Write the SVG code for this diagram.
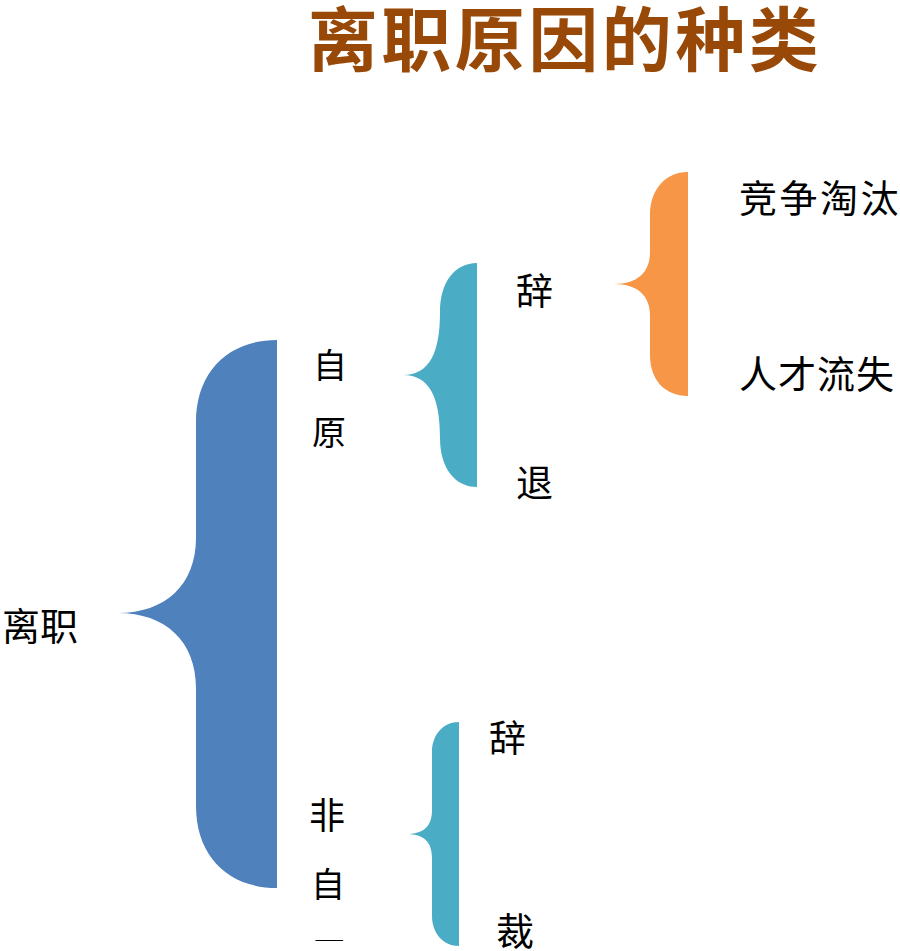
<svg xmlns="http://www.w3.org/2000/svg" width="900" height="951" viewBox="0 0 900 951">
<style>
.t{font-family:"Noto Sans CJK SC","Noto Sans CJK JP",sans-serif;fill:#000;}
.title{font-family:"Noto Sans CJK SC",sans-serif;font-weight:bold;fill:#984807;font-size:70px;}
</style>
<defs>
<clipPath id="clipBottom"><rect x="0" y="0" width="900" height="941"/></clipPath>
</defs>
<rect width="900" height="951" fill="#fff"/>
<text class="title" x="565" y="66" text-anchor="middle" letter-spacing="3.5">离职原因的种类</text>
<g id="connectors">
<path id="brace-main" fill="#4F81BD" d="M277,340 C228,340 196,372 196,422 L196,538 C196,585 165,613 118,613 C165,613 196,641 196,688 L196,806 C196,856 228,888 277,888 Z"/>
<path id="brace-ziyuan" fill="#4BACC6" d="M477,263 C455,263 440,282 440,312 C440,352 430,375 403,375 C430,375 440,398 440,438 C440,468 455,487 477,487 Z"/>
<path id="brace-cituo" fill="#F79646" d="M688,172 C665,172 650,190 650,215 L650,252 C650,272 638,284 614,284 C638,284 650,296 650,316 L650,355 C650,380 665,396 688,396 Z"/>
<path id="brace-feiziyuan" fill="#4BACC6" d="M459,722 C443,722 432,735 432,752 L432,810 C432,826 424,834 406,834 C424,834 432,842 432,858 L432,916 C432,933 443,946 459,946 Z"/>
</g>
<g id="node-lizhi"><text class="t" x="2" y="640" font-size="38">离职</text></g>
<g id="node-ziyuan">
<text class="t" x="313" y="378" font-size="34">自</text>
<text class="t" x="312" y="445" font-size="34">原</text>
</g>
<g id="node-feiziyuan">
<text class="t" x="309" y="829" font-size="36">非</text>
<text class="t" x="311" y="897" font-size="34">自</text>
<text class="t" x="311" y="967" font-size="34" clip-path="url(#clipBottom)">原</text>
</g>
<g id="node-ci1"><text class="t" x="516" y="305" font-size="37">辞</text></g>
<g id="node-tui"><text class="t" x="516" y="497" font-size="37">退</text></g>
<g id="node-ci2"><text class="t" x="489" y="752" font-size="37">辞</text></g>
<g id="node-cai"><text class="t" x="496" y="945" font-size="38">裁</text></g>
<g id="node-jingzheng"><text class="t" x="739" y="212" font-size="38" letter-spacing="2.5">竞争淘汰</text></g>
<g id="node-rencai"><text class="t" x="739" y="388" font-size="38" letter-spacing="1">人才流失</text></g>
</svg>
